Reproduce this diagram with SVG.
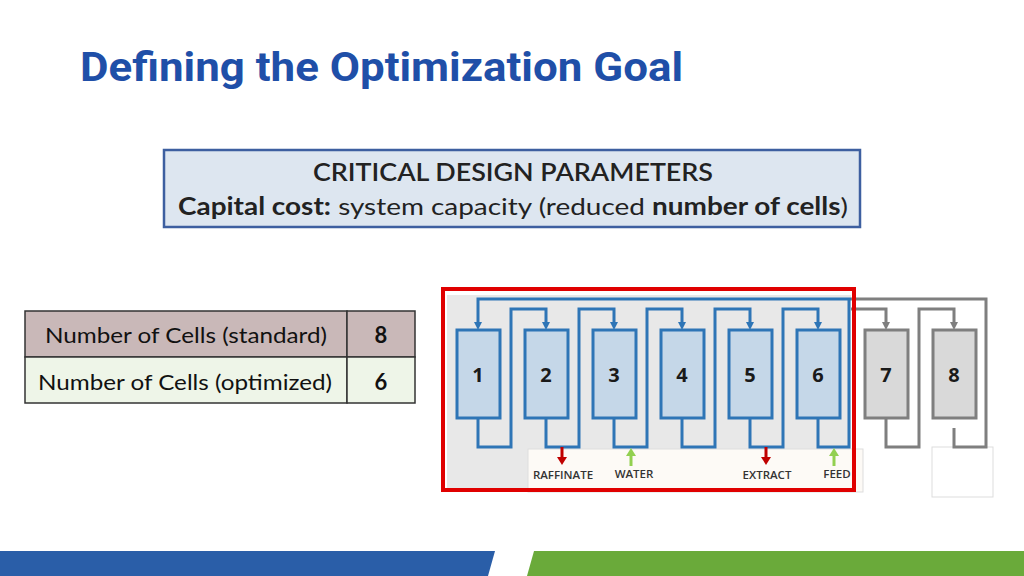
<svg xmlns="http://www.w3.org/2000/svg" width="1024" height="576" viewBox="0 0 1024 576">
<defs>
<style>
.cell{fill:#c5d7e8;stroke:#2e75b6;stroke-width:3}
.gcell{fill:#d9d9d9;stroke:#7f7f7f;stroke-width:3}
.num{font-family:"Open Sans","Liberation Sans",sans-serif;font-weight:bold;font-size:20px;text-anchor:middle;fill:#1a1a1a}
.bl{fill:none;stroke:#2e75b6;stroke-width:3}
.gl{fill:none;stroke:#7f7f7f;stroke-width:3}
.lab{font-family:"Open Sans","Liberation Sans",sans-serif;font-size:11.5px;font-weight:600;text-anchor:middle;fill:#333}
.tt{font-family:Lato,"Liberation Sans",sans-serif;font-size:22px;fill:#111}
</style>
<marker id="ab" markerWidth="8" markerHeight="8" refX="4" refY="4" orient="auto" markerUnits="userSpaceOnUse"><path d="M0,0L8,4L0,8z" fill="#2e75b6"/></marker>
<marker id="ag" markerWidth="8" markerHeight="8" refX="4" refY="4" orient="auto" markerUnits="userSpaceOnUse"><path d="M0,0L8,4L0,8z" fill="#7f7f7f"/></marker>
</defs>
<rect width="1024" height="576" fill="#fff"/>
<text x="80" y="81" font-family="Roboto,'Liberation Sans',sans-serif" font-weight="bold" font-size="40" fill="#1f4fa8" textLength="603" lengthAdjust="spacingAndGlyphs">Defining the Optimization Goal</text>
<g id="header">
<rect x="164" y="150" width="696" height="77" fill="#dde6f0" stroke="#3d5fa0" stroke-width="2.5"/>
<text x="313" y="181" font-family="Lato,'Liberation Sans',sans-serif" font-weight="600" font-size="24" fill="#222" textLength="400" lengthAdjust="spacingAndGlyphs">CRITICAL DESIGN PARAMETERS</text>
<text x="178" y="215" font-family="Lato,'Liberation Sans',sans-serif" font-size="24" fill="#222" textLength="670" lengthAdjust="spacingAndGlyphs"><tspan font-weight="bold">Capital cost:</tspan> system capacity (reduced <tspan font-weight="bold">number of cells</tspan>)</text>
</g>
<g id="table">
<rect x="25" y="311" width="322" height="46" fill="#c9b8b8" stroke="#333" stroke-width="1.5"/>
<rect x="347" y="311" width="68" height="46" fill="#c9b8b8" stroke="#333" stroke-width="1.5"/>
<rect x="25" y="357" width="322" height="46" fill="#eef5e8" stroke="#333" stroke-width="1.5"/>
<rect x="347" y="357" width="68" height="46" fill="#eef5e8" stroke="#333" stroke-width="1.5"/>
<text class="tt" x="45" y="343" textLength="282" lengthAdjust="spacingAndGlyphs">Number of Cells (standard)</text>
<text class="tt" x="381" y="343" text-anchor="middle" font-weight="bold">8</text>
<text class="tt" x="38" y="390" textLength="294" lengthAdjust="spacingAndGlyphs">Number of Cells (optimized)</text>
<text class="tt" x="381" y="390" text-anchor="middle" font-weight="bold">6</text>
</g>
<rect x="447" y="295" width="404" height="193" fill="#e8e8e8"/>
<rect x="528" y="449" width="335" height="43" fill="#fdfaf6" stroke="#ddd"/>
<rect x="932" y="447" width="61" height="50" fill="#fff" stroke="#ddd"/>
<g id="connectors">
<path class="gl" d="M851,299H986V447H954V428"/>
<path class="bl" d="M851,299H478V326" marker-end="url(#ab)"/>
<path class="bl" d="M478,418V447H511V309H546V326" marker-end="url(#ab)"/>
<path class="bl" d="M546,418V447H579V309H614V326" marker-end="url(#ab)"/>
<path class="bl" d="M614,418V447H647V309H682V326" marker-end="url(#ab)"/>
<path class="bl" d="M682,418V447H715V309H750V326" marker-end="url(#ab)"/>
<path class="bl" d="M750,418V447H783V309H818V326" marker-end="url(#ab)"/>
<path class="bl" d="M818,418V447H849V299"/>
<path class="gl" d="M851,309H886V326" marker-end="url(#ag)"/>
<path class="gl" d="M886,418V447H919V309H954V326" marker-end="url(#ag)"/>
<path d="M562,447V458" stroke="#c00000" stroke-width="3"/><path d="M557,457L562,465L567,457z" fill="#c00000"/>
<path d="M766,447V458" stroke="#c00000" stroke-width="3"/><path d="M761,457L766,465L771,457z" fill="#c00000"/>
<path d="M631,466V455" stroke="#92d050" stroke-width="3"/><path d="M626,456L631,448L636,456z" fill="#92d050"/>
<path d="M834,466V455" stroke="#92d050" stroke-width="3"/><path d="M829,456L834,448L839,456z" fill="#92d050"/>
</g>
<g id="cells">
<g id="c1"><rect class="cell" x="457" y="330" width="43" height="88"/><text class="num" x="478" y="382">1</text></g>
<g id="c2"><rect class="cell" x="525" y="330" width="43" height="88"/><text class="num" x="546" y="382">2</text></g>
<g id="c3"><rect class="cell" x="593" y="330" width="43" height="88"/><text class="num" x="614" y="382">3</text></g>
<g id="c4"><rect class="cell" x="661" y="330" width="43" height="88"/><text class="num" x="682" y="382">4</text></g>
<g id="c5"><rect class="cell" x="729" y="330" width="43" height="88"/><text class="num" x="750" y="382">5</text></g>
<g id="c6"><rect class="cell" x="797" y="330" width="43" height="88"/><text class="num" x="818" y="382">6</text></g>
<g id="c7"><rect class="gcell" x="865" y="330" width="43" height="88"/><text class="num" x="886" y="382">7</text></g>
<g id="c8"><rect class="gcell" x="933" y="330" width="43" height="88"/><text class="num" x="954" y="382">8</text></g>
</g>
<g id="labels">
<text class="lab" x="563" y="479">RAFFINATE</text>
<text class="lab" x="634" y="478">WATER</text>
<text class="lab" x="767" y="479">EXTRACT</text>
<text class="lab" x="837" y="478">FEED</text>
</g>
<rect x="443" y="289" width="411" height="201" fill="none" stroke="#e00000" stroke-width="4"/>
<path d="M0,551H495L488,576H0z" fill="#2a5ea8"/>
<path d="M534,551H1024V576H527z" fill="#6aaa3a"/>
</svg>
